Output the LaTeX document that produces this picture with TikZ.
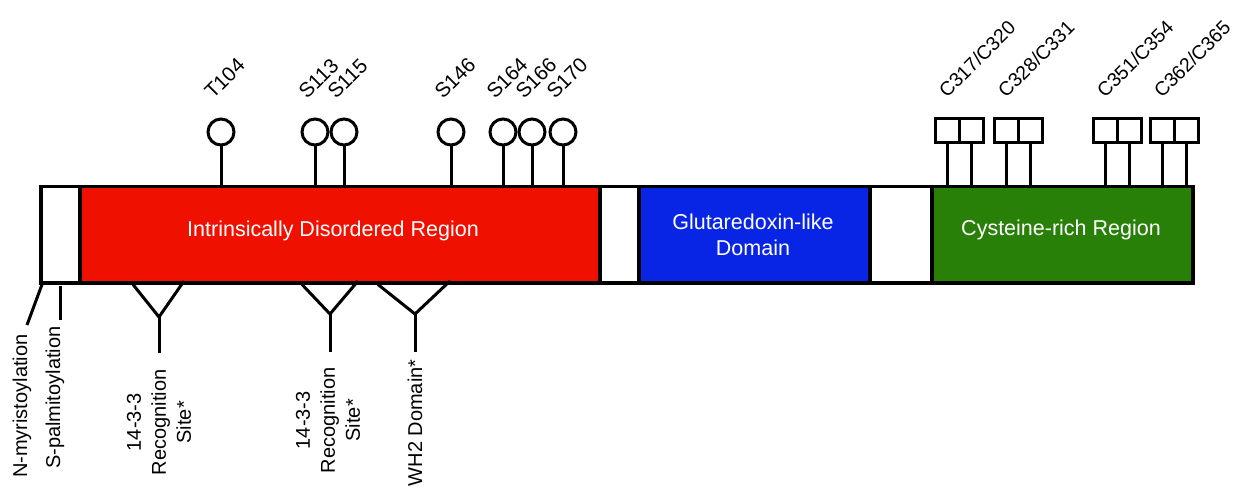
\documentclass[tikz,border=0pt]{standalone}
\usepackage{fontspec}
\setmainfont{Liberation Sans}
\definecolor{idrred}{RGB}{240,16,0}
\definecolor{grxblue}{RGB}{8,36,228}
\definecolor{cysgreen}{RGB}{40,128,8}
\begin{document}
\begin{tikzpicture}[x=1pt,y=-1pt,line width=3pt,
  seg/.style={draw=black,line width=3.5pt,minimum height=96pt,inner sep=0pt,anchor=north west,
    font=\fontsize{21.5}{26}\selectfont,text=white,align=center},
  lolli/.style={circle,draw,line width=3pt,minimum size=26pt,inner sep=0pt,fill=white},
  csq/.style={rectangle,draw,line width=3pt,minimum size=24pt,inner sep=0pt,fill=white},
  toplab/.style={rotate=45,anchor=base west,font=\fontsize{20.5}{24}\selectfont,inner sep=0pt},
  cyslab/.style={rotate=45,anchor=base west,font=\fontsize{19.5}{24}\selectfont,inner sep=0pt},
  botlab/.style={rotate=90,anchor=east,align=center,font=\fontsize{20}{25}\selectfont,inner sep=0pt},
  stem/.style={line width=3pt}]
\useasboundingbox (0,0) rectangle (1233,489);

% bar segments
\node[seg,fill=white,minimum width=39pt] (nt) at (39,185) {};
\node[seg,fill=idrred,minimum width=520pt] (idr) at (78,185) {};
\node[seg,fill=white,minimum width=39pt] (l1) at (598,185) {};
\node[seg,fill=grxblue,minimum width=231pt] (grx) at (637,185) {};
\node[seg,fill=white,minimum width=62pt] (l2) at (868,185) {};
\node[seg,fill=cysgreen,minimum width=261pt] (cys) at (930,185) {};
\node[text=white,font=\fontsize{21.5}{26}\selectfont,inner sep=0pt] (idrt) at (333,231) {Intrinsically Disordered Region};
\node[text=white,font=\fontsize{21.5}{26}\selectfont,inner sep=0pt,align=center] (grxt) at (753,235) {Glutaredoxin-like\\Domain};
\node[text=white,font=\fontsize{21.5}{26}\selectfont,inner sep=0pt] (cyst) at (1061,230) {Cysteine-rich Region};

% phosphosites
\foreach \n/\x/\t in {a/221/T104,b/315/S113,c/344/S115,d/451/S146,e/503/S164,f/532/S166,g/563/S170}{
  \node[lolli] (p\n) at (\x,132) {};
  \draw[stem] (p\n.south) -- (p\n.south |- idr.north);
  \node[toplab] (lp\n) at (\x-9,101) {\t};
}

% cysteine pairs
\foreach \n/\x/\t in {a/959/C317\slash C320,b/1018/C328\slash C331,c/1117/C351\slash C354,d/1174/C362\slash C365}{
  \node[csq] (q\n1) at (\x-12,131) {};
  \node[csq] (q\n2) at (\x+12,131) {};
  \draw[stem] (q\n1.south) -- (q\n1.south |- cys.north);
  \draw[stem] (q\n2.south) -- (q\n2.south |- cys.north);
  \node[cyslab] (lq\n) at (\x-13,100) {\t};
}

% lipidation
\coordinate (nmyr) at (27,325);
\draw[stem] (nt.south west) ++(3,0) -- (nmyr);
\draw[stem] (nt.south) ++(0,1) -- ++(0,34) coordinate (spal);
\node[botlab] (lnmyr) at (22,333) {N-myristoylation};
\node[botlab] (lspal) at (55,325) {S-palmitoylation};

% motifs
\coordinate (y1) at (159,317);
\draw[stem] (idr.south west) ++(55,0) -- (y1) -- (184,281);
\draw[stem] (y1) -- ++(0,36) coordinate (y1e);
\node[botlab] (ly1) at (159,368) {14-3-3\\Recognition\\Site*};

\coordinate (y2) at (330,314);
\draw[stem] (idr.south west) ++(224,0) -- (y2) -- (358,281);
\draw[stem] (y2) -- ++(0,38) coordinate (y2e);
\node[botlab] (ly2) at (328,366) {14-3-3\\Recognition\\Site*};

\coordinate (y3) at (415,314);
\draw[stem] (idr.south west) ++(300,0) -- (y3) -- (450,281);
\draw[stem] (y3) -- ++(0,38) coordinate (y3e);
\node[botlab] (ly3) at (415,358) {WH2 Domain*};
\end{tikzpicture}
\end{document}
